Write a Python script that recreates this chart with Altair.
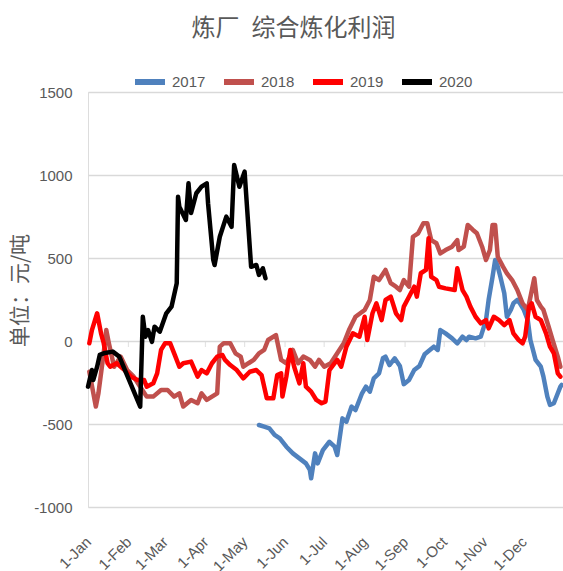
import altair as alt
import pandas as pd

# Refinery composite margin (CNY/tonne) by calendar day; day 0 = 1 Jan
days_2017 = [131, 135, 139, 143, 147, 152, 157, 162, 167, 170, 171, 174, 176, 180, 185,
             189, 191, 195, 198, 202, 205, 210, 213, 216, 219, 223, 226, 228, 231, 235,
             239, 242, 246, 250, 254, 258, 261, 265, 268, 270, 274, 279, 283, 287, 290,
             292, 297, 301, 305, 307, 310, 312, 314, 316, 319, 321, 324, 326, 329, 331,
             334, 337, 339, 343, 347, 349, 352, 354, 357, 360, 362, 363]
vals_2017 = [-506, -516, -526, -566, -586, -637, -677, -707, -737, -777, -827, -677, -737, -657, -607,
             -637, -687, -466, -486, -395, -416, -315, -275, -305, -225, -195, -104, -94, -145, -104,
             -150, -260, -235, -175, -150, -80, -60, -34, -54, 66, 46, 16, -14, 26, 6,
             26, 16, 26, 126, 247, 387, 488, 448, 387, 287, 146, 187, 227, 247, 227,
             187, 126, 6, -114, -155, -215, -335, -385, -375, -315, -275, -265]

days_2018 = [1, 6, 8, 12, 14, 16, 20, 25, 30, 35, 40, 45, 50, 56, 61,
             66, 70, 73, 79, 84, 87, 91, 95, 99, 101, 104, 109, 113, 117, 119,
             123, 127, 131, 135, 138, 144, 148, 152, 157, 161, 165, 170, 174, 177, 181,
             186, 191, 196, 200, 205, 212, 216, 219, 223, 228, 232, 236, 239, 242, 246,
             249, 253, 257, 260, 263, 267, 270, 274, 279, 283, 284, 288, 291, 295, 298,
             302, 305, 308, 310, 312, 314, 318, 321, 325, 329, 333, 337, 342, 344, 347,
             349, 353, 356, 360, 362]
vals_2018 = [-185, -395, -315, -74, 66, -14, -155, -94, -175, -215, -275, -335, -335, -295, -295,
             -335, -315, -395, -355, -375, -315, -355, -335, -315, -34, -14, -14, -74, -94, -155,
             -134, -114, -74, -54, 6, 36, -114, -134, -54, -134, -94, -114, -155, -114, -155,
             -134, -74, -14, 66, 146, 187, 247, 387, 367, 428, 348, 327, 307, 367, 327,
             628, 649, 709, 709, 608, 589, 528, 548, 568, 608, 548, 568, 699, 669, 649,
             568, 488, 548, 699, 699, 508, 448, 408, 367, 307, 227, 187, 378, 247, 207,
             187, 86, 6, -94, -155]

days_2019 = [1, 3, 7, 10, 12, 15, 17, 22, 28, 33, 38, 43, 45, 50, 53,
             56, 59, 63, 67, 70, 73, 79, 84, 87, 91, 95, 99, 103, 105, 109,
             114, 119, 124, 129, 133, 137, 142, 145, 148, 149, 152, 155, 158, 162, 165,
             167, 171, 175, 179, 182, 185, 189, 191, 194, 198, 203, 208, 212, 214, 218,
             221, 225, 228, 232, 236, 240, 242, 246, 250, 252, 255, 259, 261, 263, 267,
             269, 274, 281, 283, 287, 290, 293, 297, 301, 305, 307, 311, 315, 319, 323,
             326, 330, 333, 335, 338, 340, 343, 347, 351, 354, 357, 360, 362]
vals_2019 = [-14, 66, 167, 46, -12, -134, -155, -134, -175, -215, -235, -235, -275, -255, -195,
             -54, -14, -14, -94, -155, -134, -124, -215, -175, -195, -134, -94, -84, -114, -145,
             -175, -225, -185, -175, -205, -345, -345, -205, -195, -335, -215, -54, -155, -255, -134,
             -275, -305, -355, -375, -365, -175, -134, -114, -155, -34, 46, 26, 146, 6, 167,
             227, 126, 247, 267, 167, 126, 207, 267, 327, 267, 408, 428, 619, 387, 367,
             327, 317, 307, 438, 307, 267, 207, 146, 106, 126, 76, 146, 126, 96, 126,
             46, 6, -14, 26, 207, 227, 146, 126, 46, -34, -74, -195, -215]

days_2020 = [0, 3, 4, 7, 9, 13, 19, 24, 40, 42, 44, 46, 49, 51, 55,
             60, 64, 68, 69, 70, 75, 77, 79, 83, 87, 91, 92, 96, 97, 101,
             106, 110, 112, 116, 120, 125, 129, 131, 134, 136]
vals_2020 = [-275, -175, -235, -155, -84, -72, -64, -94, -395, 146, 26, 66, -5, 86, 56,
             167, 207, 348, 869, 809, 729, 950, 771, 890, 930, 950, 830, 488, 458, 628,
             749, 688, 1060, 929, 1020, 447, 458, 398, 438, 378]

years = ["2017", "2018", "2019", "2020"]
colors = ["#4F81BD", "#C0504D", "#FF0000", "#000000"]

month_days = [0, 31, 59, 90, 120, 151, 181, 212, 243, 273, 304, 334]
month_labels = ["1-Jan", "1-Feb", "1-Mar", "1-Apr", "1-May", "1-Jun",
                "1-Jul", "1-Aug", "1-Sep", "1-Oct", "1-Nov", "1-Dec"]
y_ticks = [-1000, -500, 0, 500, 1000, 1500]

rows = []
for yr, ds, vs in zip(years,
                      [days_2017, days_2018, days_2019, days_2020],
                      [vals_2017, vals_2018, vals_2019, vals_2020]):
    for d, v in zip(ds, vs):
        rows.append({"year": yr, "day": d, "value": v})
df = pd.DataFrame(rows)

label_expr = ("[" + ",".join(f"'{s}'" for s in month_labels) + "]"
              + "[indexof([" + ",".join(str(d) for d in month_days) + "], datum.value)]")

NUM_FONT = "Liberation Sans"
CJK_FONT = "Noto Sans CJK SC"
GREY = "#595959"

x_scale = alt.Scale(domain=[0, 364], nice=False, zero=False)
y_scale = alt.Scale(domain=[-1000, 1500], nice=False, zero=False)

lines = alt.Chart(df).mark_line(
    strokeWidth=4.5, strokeJoin="round", strokeCap="round"
).encode(
    x=alt.X("day:Q", scale=x_scale,
            axis=alt.Axis(values=month_days, labelExpr=label_expr, title=None,
                          grid=False, domain=False, ticks=False,
                          labelAngle=-45, labelAlign="right", labelBaseline="middle",
                          labelPadding=32, labelFont=NUM_FONT, labelFontSize=15,
                          labelColor=GREY, labelOverlap=False, labelBound=False,
                          labelFlush=False)),
    y=alt.Y("value:Q", scale=y_scale,
            axis=alt.Axis(values=y_ticks, labelExpr="'' + datum.value",
                          title="单位：元/吨", grid=True,
                          gridColor="#D9D9D9", gridWidth=1.5,
                          domain=False, ticks=False, labelPadding=16,
                          labelFont=NUM_FONT, labelFontSize=15, labelColor=GREY,
                          titleFont=CJK_FONT, titleFontSize=21, titleFontWeight="normal",
                          titleColor=GREY, titleX=-68, titleY=198,
                          titleAlign="center", titleBaseline="middle")),
    color=alt.Color("year:N", scale=alt.Scale(domain=years, range=colors),
                    legend=alt.Legend(title=None, orient="none", direction="horizontal",
                                      legendX=44, legendY=-28,
                                      symbolType="stroke", symbolSize=900,
                                      symbolStrokeWidth=6, labelOffset=4,
                                      columnPadding=6, labelFont=NUM_FONT,
                                      labelFontSize=15, labelColor=GREY)),
)

# small category ticks hanging from the zero line
zero_ticks = alt.Chart(pd.DataFrame({"day": month_days[1:]})).mark_tick(
    orient="vertical", size=6, thickness=1.2, color="#D9D9D9", yOffset=3
).encode(x=alt.X("day:Q", scale=x_scale), y=alt.datum(0))

chart = alt.layer(zero_ticks, lines).properties(
    width=475, height=415,
    title=alt.TitleParams(text="炼厂\u2002综合炼化利润", font=CJK_FONT, fontSize=24,
                          fontWeight="normal", color=GREY, anchor="middle", dx=-32,
                          offset=23),
    autosize=alt.AutoSizeParams(type="none"),
    padding={"left": 88, "top": 92, "right": 0, "bottom": 64},
).configure_view(stroke=None).configure(background="white")

chart.save("out.html", embed_options={"renderer": "svg", "actions": False})
